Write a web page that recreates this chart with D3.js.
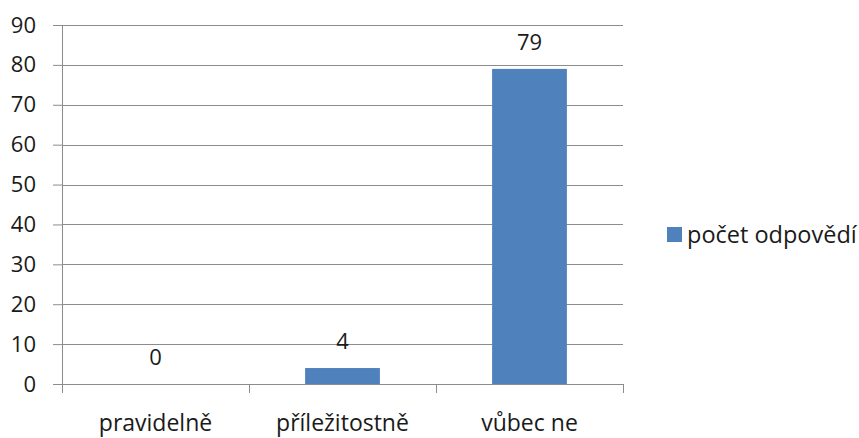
<!DOCTYPE html>
<html>
<head>
<meta charset="utf-8">
<script src="https://cdn.jsdelivr.net/npm/d3@7"></script>
<style>
  body { margin: 0; background: #fff; }
  svg { display: block; font-family: "Open Sans", sans-serif; }
</style>
</head>
<body>
<svg id="viz"></svg>
<script>
const categories = ["pravidelně", "příležitostně", "vůbec ne"];
const values = [0, 4, 79];
const seriesName = "počet odpovědí";
const yTicks = [0, 10, 20, 30, 40, 50, 60, 70, 80, 90];

const width = 859, height = 438;
const margin = { top: 25, left: 62, right: 236, bottom: 54 };
const barColor = "#4F81BD";
const gridColor = "#8c8c8c";
const textColor = "#1a1a1a";

const svg = d3.select("#viz").attr("width", width).attr("height", height);

const x = d3.scaleBand()
    .domain(categories)
    .range([margin.left, width - margin.right])
    .paddingInner(0.6)
    .paddingOuter(0.3);

const y = d3.scaleLinear()
    .domain([0, 90])
    .range([height - margin.bottom, margin.top]);

// y ticks
const yAxis = svg.append("g")
    .attr("transform", `translate(${margin.left},0)`)
    .call(d3.axisLeft(y).tickValues(yTicks).tickSize(9).tickPadding(17).tickSizeOuter(0));
yAxis.select(".domain").remove();
yAxis.selectAll(".tick line").attr("stroke", gridColor);
yAxis.selectAll(".tick text")
    .attr("font-size", 22).attr("fill", textColor).attr("font-family", "Open Sans");

// gridlines
svg.append("g")
    .selectAll("line")
    .data(yTicks)
    .join("line")
    .attr("x1", margin.left)
    .attr("x2", width - margin.right)
    .attr("y1", d => Math.round(y(d)) + 0.5)
    .attr("y2", d => Math.round(y(d)) + 0.5)
    .attr("stroke", gridColor);

// y axis line
svg.append("line")
    .attr("x1", margin.left + 0.5).attr("x2", margin.left + 0.5)
    .attr("y1", y(90)).attr("y2", y(0) + 9)
    .attr("stroke", gridColor);

// x category ticks
const xEdges = categories.map((c, i) => margin.left + i * x.step()).concat([width - margin.right]);
svg.append("g")
    .selectAll("line")
    .data(xEdges)
    .join("line")
    .attr("x1", d => Math.round(d) + 0.5)
    .attr("x2", d => Math.round(d) + 0.5)
    .attr("y1", y(0))
    .attr("y2", y(0) + 9)
    .attr("stroke", gridColor);

// bars
svg.append("g")
    .selectAll("rect")
    .data(values)
    .join("rect")
    .attr("x", (d, i) => x(categories[i]))
    .attr("width", x.bandwidth())
    .attr("y", d => y(d))
    .attr("height", d => y(0) - y(d))
    .attr("fill", barColor);

// value labels
svg.append("g")
    .selectAll("text")
    .data(values)
    .join("text")
    .attr("x", (d, i) => x(categories[i]) + x.bandwidth() / 2)
    .attr("y", d => y(d) - 19)
    .attr("text-anchor", "middle")
    .attr("font-size", 22)
    .attr("fill", textColor)
    .text(d => d);

// category labels
svg.append("g")
    .selectAll("text")
    .data(categories)
    .join("text")
    .attr("x", d => x(d) + x.bandwidth() / 2)
    .attr("y", y(0) + 47)
    .attr("text-anchor", "middle")
    .attr("font-size", 23)
    .attr("fill", textColor)
    .text(d => d);

// legend
const legend = svg.append("g").attr("transform", "translate(667,227)");
legend.append("rect").attr("width", 15).attr("height", 15).attr("fill", barColor);
legend.append("text")
    .attr("x", 20).attr("y", 7.5)
    .attr("dy", "0.35em")
    .attr("font-size", 23.5)
    .attr("fill", textColor)
    .text(seriesName);
</script>
</body>
</html>
